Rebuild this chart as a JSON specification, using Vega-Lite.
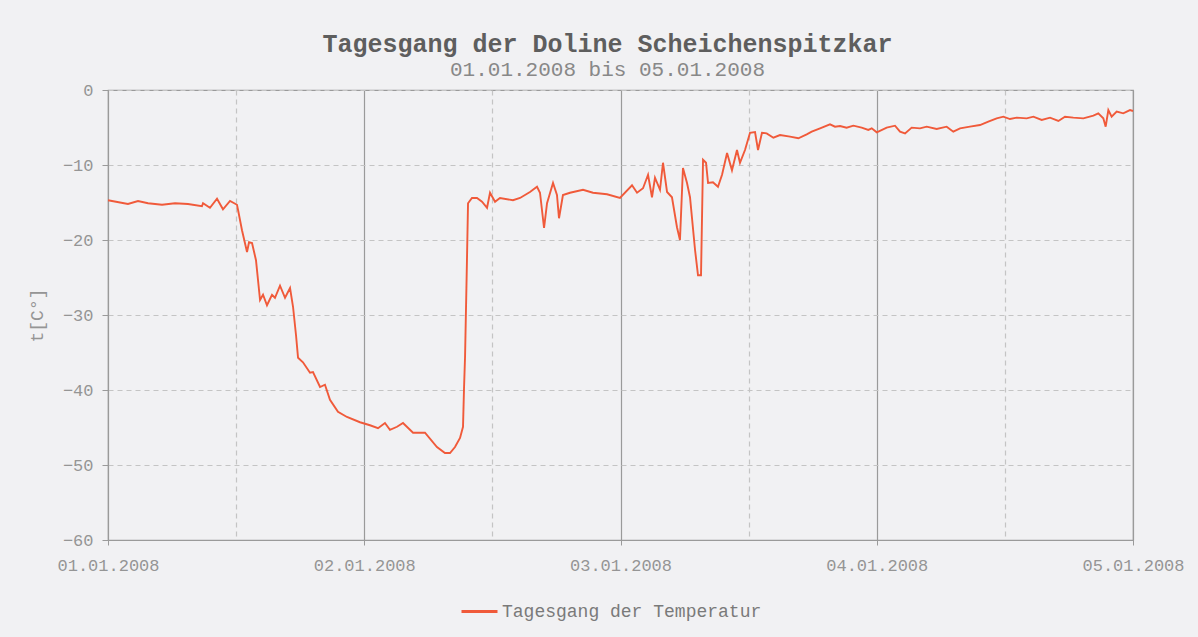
{
  "$schema": "https://vega.github.io/schema/vega-lite/v6.json",
  "autosize": {"type": "none"},
  "padding": {"left": 108, "top": 90, "right": 65, "bottom": 97},
  "width": 1025,
  "height": 450,
  "background": "#f1f1f3",
  "config": {
    "view": {"stroke": "#9a9a9a", "strokeWidth": 1.2},
    "font": "Liberation Mono"
  },
  "title": {
    "text": "Tagesgang der Doline Scheichenspitzkar",
    "subtitle": "01.01.2008 bis 05.01.2008",
    "font": "Liberation Mono",
    "fontSize": 25,
    "fontWeight": "bold",
    "color": "#5e5e5e",
    "subtitleFont": "Liberation Mono",
    "subtitleFontSize": 21,
    "subtitleColor": "#888888",
    "subtitlePadding": 2,
    "anchor": "middle",
    "dx": -13,
    "offset": 1
  },
  "data": {
    "values": [
      {"stunde": 0, "temperatur": -14.7},
      {"stunde": 1.87, "temperatur": -15.2},
      {"stunde": 2.81, "temperatur": -14.8},
      {"stunde": 3.75, "temperatur": -15.1},
      {"stunde": 5.06, "temperatur": -15.3},
      {"stunde": 6.28, "temperatur": -15.1},
      {"stunde": 7.49, "temperatur": -15.2},
      {"stunde": 8.8, "temperatur": -15.5},
      {"stunde": 8.9, "temperatur": -15.1},
      {"stunde": 9.55, "temperatur": -15.7},
      {"stunde": 10.21, "temperatur": -14.5},
      {"stunde": 10.77, "temperatur": -15.9},
      {"stunde": 11.43, "temperatur": -14.8},
      {"stunde": 12.08, "temperatur": -15.3},
      {"stunde": 12.18, "temperatur": -16.0},
      {"stunde": 12.55, "temperatur": -18.7},
      {"stunde": 13.02, "temperatur": -21.6},
      {"stunde": 13.21, "temperatur": -20.3},
      {"stunde": 13.49, "temperatur": -20.4},
      {"stunde": 13.86, "temperatur": -22.7},
      {"stunde": 14.24, "temperatur": -28.0},
      {"stunde": 14.52, "temperatur": -27.3},
      {"stunde": 14.89, "temperatur": -28.7},
      {"stunde": 15.36, "temperatur": -27.3},
      {"stunde": 15.64, "temperatur": -27.7},
      {"stunde": 16.11, "temperatur": -26.1},
      {"stunde": 16.58, "temperatur": -27.7},
      {"stunde": 17.05, "temperatur": -26.4},
      {"stunde": 17.33, "temperatur": -28.9},
      {"stunde": 17.61, "temperatur": -32.7},
      {"stunde": 17.8, "temperatur": -35.7},
      {"stunde": 18.26, "temperatur": -36.3},
      {"stunde": 18.92, "temperatur": -37.7},
      {"stunde": 19.2, "temperatur": -37.6},
      {"stunde": 19.86, "temperatur": -39.6},
      {"stunde": 20.32, "temperatur": -39.3},
      {"stunde": 20.79, "temperatur": -41.3},
      {"stunde": 21.54, "temperatur": -42.9},
      {"stunde": 22.38, "temperatur": -43.6},
      {"stunde": 23.6, "temperatur": -44.3},
      {"stunde": 24.54, "temperatur": -44.7},
      {"stunde": 25.29, "temperatur": -45.1},
      {"stunde": 25.94, "temperatur": -44.4},
      {"stunde": 26.41, "temperatur": -45.3},
      {"stunde": 27.07, "temperatur": -44.9},
      {"stunde": 27.63, "temperatur": -44.4},
      {"stunde": 28.57, "temperatur": -45.7},
      {"stunde": 29.69, "temperatur": -45.7},
      {"stunde": 30.81, "temperatur": -47.6},
      {"stunde": 31.56, "temperatur": -48.4},
      {"stunde": 32.03, "temperatur": -48.4},
      {"stunde": 32.5, "temperatur": -47.6},
      {"stunde": 32.97, "temperatur": -46.4},
      {"stunde": 33.25, "temperatur": -44.9},
      {"stunde": 33.34, "temperatur": -40.0},
      {"stunde": 33.44, "temperatur": -35.6},
      {"stunde": 33.62, "temperatur": -22.7},
      {"stunde": 33.72, "temperatur": -15.1},
      {"stunde": 34.09, "temperatur": -14.4},
      {"stunde": 34.56, "temperatur": -14.4},
      {"stunde": 35.03, "temperatur": -14.9},
      {"stunde": 35.5, "temperatur": -15.7},
      {"stunde": 35.78, "temperatur": -13.7},
      {"stunde": 36.25, "temperatur": -14.9},
      {"stunde": 36.71, "temperatur": -14.4},
      {"stunde": 37.93, "temperatur": -14.7},
      {"stunde": 38.59, "temperatur": -14.4},
      {"stunde": 39.52, "temperatur": -13.6},
      {"stunde": 40.18, "temperatur": -12.9},
      {"stunde": 40.46, "temperatur": -13.7},
      {"stunde": 40.84, "temperatur": -18.4},
      {"stunde": 41.12, "temperatur": -15.1},
      {"stunde": 41.68, "temperatur": -12.4},
      {"stunde": 42.05, "temperatur": -14.0},
      {"stunde": 42.24, "temperatur": -17.1},
      {"stunde": 42.61, "temperatur": -14.0},
      {"stunde": 43.27, "temperatur": -13.7},
      {"stunde": 44.49, "temperatur": -13.3},
      {"stunde": 45.42, "temperatur": -13.7},
      {"stunde": 46.74, "temperatur": -13.9},
      {"stunde": 47.95, "temperatur": -14.4},
      {"stunde": 49.08, "temperatur": -12.7},
      {"stunde": 49.55, "temperatur": -13.7},
      {"stunde": 50.11, "temperatur": -13.1},
      {"stunde": 50.58, "temperatur": -11.3},
      {"stunde": 50.95, "temperatur": -14.3},
      {"stunde": 51.23, "temperatur": -11.7},
      {"stunde": 51.7, "temperatur": -13.3},
      {"stunde": 51.98, "temperatur": -9.7},
      {"stunde": 52.36, "temperatur": -13.6},
      {"stunde": 52.82, "temperatur": -14.3},
      {"stunde": 53.29, "temperatur": -18.3},
      {"stunde": 53.57, "temperatur": -20.0},
      {"stunde": 53.85, "temperatur": -10.4},
      {"stunde": 54.23, "temperatur": -12.4},
      {"stunde": 54.51, "temperatur": -14.3},
      {"stunde": 54.98, "temperatur": -21.3},
      {"stunde": 55.26, "temperatur": -24.7},
      {"stunde": 55.54, "temperatur": -24.7},
      {"stunde": 55.73, "temperatur": -9.3},
      {"stunde": 56.01, "temperatur": -9.7},
      {"stunde": 56.2, "temperatur": -12.4},
      {"stunde": 56.66, "temperatur": -12.3},
      {"stunde": 57.13, "temperatur": -12.9},
      {"stunde": 57.51, "temperatur": -11.3},
      {"stunde": 57.98, "temperatur": -8.4},
      {"stunde": 58.44, "temperatur": -10.7},
      {"stunde": 58.91, "temperatur": -8.0},
      {"stunde": 59.19, "temperatur": -9.7},
      {"stunde": 59.66, "temperatur": -8.0},
      {"stunde": 60.13, "temperatur": -5.7},
      {"stunde": 60.6, "temperatur": -5.6},
      {"stunde": 60.88, "temperatur": -8.0},
      {"stunde": 61.25, "temperatur": -5.7},
      {"stunde": 61.69, "temperatur": -5.78},
      {"stunde": 62.32, "temperatur": -6.36},
      {"stunde": 62.94, "temperatur": -6.0},
      {"stunde": 63.88, "temperatur": -6.22},
      {"stunde": 64.66, "temperatur": -6.44},
      {"stunde": 65.44, "temperatur": -5.91},
      {"stunde": 65.91, "temperatur": -5.56},
      {"stunde": 66.69, "temperatur": -5.11},
      {"stunde": 67.62, "temperatur": -4.58},
      {"stunde": 68.09, "temperatur": -4.89},
      {"stunde": 68.56, "temperatur": -4.8},
      {"stunde": 69.18, "temperatur": -5.02},
      {"stunde": 69.81, "temperatur": -4.76},
      {"stunde": 70.59, "temperatur": -5.02},
      {"stunde": 71.21, "temperatur": -5.33},
      {"stunde": 71.53, "temperatur": -5.11},
      {"stunde": 72.0, "temperatur": -5.64},
      {"stunde": 72.93, "temperatur": -5.02},
      {"stunde": 73.71, "temperatur": -4.76},
      {"stunde": 74.18, "temperatur": -5.56},
      {"stunde": 74.65, "temperatur": -5.78},
      {"stunde": 75.27, "temperatur": -5.02},
      {"stunde": 76.05, "temperatur": -5.11},
      {"stunde": 76.68, "temperatur": -4.89},
      {"stunde": 77.61, "temperatur": -5.2},
      {"stunde": 78.55, "temperatur": -4.89},
      {"stunde": 79.17, "temperatur": -5.56},
      {"stunde": 79.8, "temperatur": -5.11},
      {"stunde": 80.73, "temperatur": -4.89},
      {"stunde": 81.67, "temperatur": -4.67},
      {"stunde": 82.45, "temperatur": -4.22},
      {"stunde": 83.23, "temperatur": -3.78},
      {"stunde": 83.86, "temperatur": -3.56},
      {"stunde": 84.48, "temperatur": -3.87},
      {"stunde": 85.11, "temperatur": -3.69},
      {"stunde": 86.04, "temperatur": -3.78},
      {"stunde": 86.67, "temperatur": -3.56},
      {"stunde": 87.45, "temperatur": -4.0},
      {"stunde": 88.23, "temperatur": -3.69},
      {"stunde": 89.01, "temperatur": -4.13},
      {"stunde": 89.63, "temperatur": -3.56},
      {"stunde": 90.41, "temperatur": -3.69},
      {"stunde": 91.35, "temperatur": -3.78},
      {"stunde": 92.29, "temperatur": -3.42},
      {"stunde": 92.75, "temperatur": -3.11},
      {"stunde": 93.22, "temperatur": -3.78},
      {"stunde": 93.44, "temperatur": -4.89},
      {"stunde": 93.69, "temperatur": -2.67},
      {"stunde": 94.0, "temperatur": -3.56},
      {"stunde": 94.47, "temperatur": -2.89},
      {"stunde": 95.09, "temperatur": -3.11},
      {"stunde": 95.72, "temperatur": -2.67},
      {"stunde": 96, "temperatur": -2.8}
    ]
  },
  "mark": {"type": "line", "strokeWidth": 1.9, "interpolate": "linear"},
  "encoding": {
    "x": {
      "field": "stunde",
      "type": "quantitative",
      "scale": {"domain": [0, 96], "nice": false, "zero": false},
      "axis": {
        "title": null,
        "values": [0, 12, 24, 36, 48, 60, 72, 84, 96],
        "labelExpr": "datum.value % 24 == 0 ? '0' + (datum.value / 24 + 1) + '.01.2008' : ''",
        "labelFont": "Liberation Mono",
        "labelFontSize": 17,
        "labelColor": "#959595",
        "labelPadding": 12,
        "labelFlush": false,
        "labelOverlap": false,
        "domainColor": "#9a9a9a",
        "tickColor": "#9a9a9a",
        "tickSize": 5,
        "tickOpacity": {"condition": {"test": "datum.value % 24 != 0", "value": 0}, "value": 1},
        "grid": true,
        "gridColor": {"condition": {"test": "datum.value % 24 != 0", "value": "#c4c4c4"}, "value": "#9a9a9a"},
        "gridDash": {"condition": {"test": "datum.value % 24 != 0", "value": [5, 4]}, "value": []},
        "gridWidth": 1.2
      }
    },
    "y": {
      "field": "temperatur",
      "type": "quantitative",
      "scale": {"domain": [-60, 0], "nice": false},
      "axis": {
        "title": "t[C°]",
        "titleFont": "Liberation Mono",
        "titleFontSize": 18,
        "titleFontWeight": "normal",
        "titleColor": "#959595",
        "titlePadding": 16,
        "values": [0, -10, -20, -30, -40, -50, -60],
        "labelFont": "Liberation Mono",
        "labelFontSize": 17,
        "labelColor": "#959595",
        "labelPadding": 9,
        "labelFlush": false,
        "domainColor": "#9a9a9a",
        "tickColor": "#9a9a9a",
        "tickSize": 6,
        "grid": true,
        "gridColor": "#c4c4c4",
        "gridDash": [5, 4],
        "gridWidth": 1.2
      }
    },
    "color": {
      "datum": "Tagesgang der Temperatur",
      "type": "nominal",
      "scale": {"range": ["#f05a3a"]},
      "legend": {
        "title": null,
        "orient": "none",
        "legendX": 352,
        "legendY": 502,
        "symbolType": "stroke",
        "symbolSize": 1296,
        "symbolStrokeWidth": 3,
        "labelFont": "Liberation Mono",
        "labelFontSize": 18,
        "labelColor": "#7a7a7a",
        "labelOffset": 3,
        "labelLimit": 600
      }
    }
  }
}
